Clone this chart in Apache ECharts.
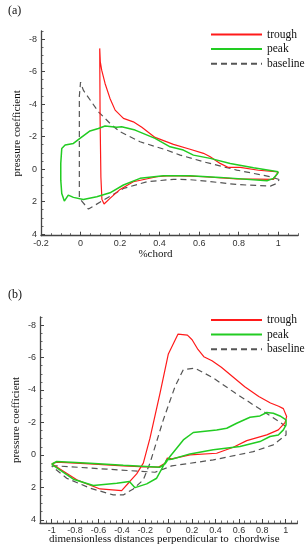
<!DOCTYPE html>
<html><head><meta charset="utf-8">
<script src="https://cdn.jsdelivr.net/npm/echarts@6/dist/echarts.min.js"></script>
<style>html,body{margin:0;padding:0;background:#fff}#c{width:306px;height:550px}</style>
</head><body><div id="c"></div>
<script>
// ---- tick labels ----
const xTicksA = [-0.2, 0, 0.2, 0.4, 0.6, 0.8, 1];
const xTicksB = [-1, -0.8, -0.6, -0.4, -0.2, 0, 0.2, 0.4, 0.6, 0.8, 1];
const yTicks = [-8, -6, -4, -2, 0, 2, 4];
const seriesNames = ['trough', 'peak', 'baseline'];

// ---- panel (a): pressure coefficient vs %chord ----
const troughA = [[1.0,0.17],[0.993,0.23],[0.9,0.07],[0.808,-0.1],[0.748,-0.1],[0.706,-0.35],[0.656,-0.76],[0.622,-0.97],
  [0.554,-1.22],[0.47,-1.52],[0.377,-1.95],[0.31,-2.57],[0.267,-2.91],[0.217,-3.12],[0.175,-3.63],[0.149,-4.35],
  [0.124,-5.27],[0.107,-6.09],[0.1,-6.6],[0.097,-7.43],[0.099,-3.0],[0.103,0.5],[0.108,1.85],[0.119,2.15],
  [0.149,1.8],[0.2,1.25],[0.267,0.78],[0.386,0.47],[0.453,0.4],[0.554,0.43],[0.622,0.47],[0.79,0.6],[0.976,0.63],[1.0,0.17]];
const peakA = [[1.0,0.17],[0.875,-0.08],[0.757,-0.35],[0.656,-0.66],[0.571,-0.86],[0.52,-1.17],[0.453,-1.37],[0.377,-1.89],
  [0.276,-2.4],[0.208,-2.6],[0.183,-2.57],[0.124,-2.65],[0.09,-2.5],[0.048,-2.35],[-0.003,-1.89],[-0.036,-1.58],
  [-0.078,-1.48],[-0.095,-1.27],[-0.1,-0.35],[-0.1,0.68],[-0.095,1.5],[-0.082,1.97],[-0.062,1.6],[-0.036,1.74],
  [0.014,1.87],[0.082,1.7],[0.149,1.46],[0.217,0.98],[0.301,0.57],[0.419,0.41],[0.554,0.41],[0.706,0.51],
  [0.943,0.72],[0.976,0.57],[0.997,0.27],[1.0,0.17]];
const baselineA = [[1.005,0.64],[0.96,0.47],[0.79,0.06],[0.622,-0.45],[0.504,-0.86],[0.436,-1.17],[0.301,-1.68],
  [0.2,-2.3],[0.158,-2.71],[0.09,-3.53],[0.014,-4.86],[0.0,-5.35],[-0.006,-4.5],[-0.006,1.8],[0.04,2.46],
  [0.116,1.91],[0.217,1.19],[0.335,0.78],[0.47,0.63],[0.55,0.65],[0.62,0.72],[0.79,0.95],[0.96,1.05],[0.993,0.88],[1.005,0.64]];

// ---- panel (b): pressure coefficient vs perpendicular distance ----
const troughB = [[-1.0,0.55],[-0.957,0.45],[-0.673,0.55],[-0.388,0.68],[-0.245,0.72],[-0.089,0.76],[-0.032,0.51],
  [-0.012,0.2],[0.026,0.25],[0.182,0.0],[0.41,-0.1],[0.552,-0.47],[0.667,-0.88],[0.838,-1.23],[0.937,-1.54],
  [0.994,-1.99],[1.008,-2.36],[0.98,-2.85],[0.94,-3.0],[0.87,-3.2],[0.77,-3.6],[0.65,-4.2],[0.55,-4.8],
  [0.45,-5.4],[0.37,-5.8],[0.3,-6.05],[0.25,-6.5],[0.2,-7.1],[0.16,-7.38],[0.08,-7.45],[-0.003,-6.22],
  [-0.074,-3.8],[-0.16,-1.03],[-0.217,0.51],[-0.274,1.17],[-0.332,1.64],[-0.402,2.2],[-0.587,2.1],[-0.786,1.54],[-1.0,0.55]];
const peakB = [[-1.0,0.58],[-0.957,0.41],[-0.673,0.51],[-0.388,0.64],[-0.074,0.76],[-0.032,0.56],[0.011,0.1],
  [0.125,-0.92],[0.21,-1.38],[0.41,-1.54],[0.496,-1.64],[0.581,-1.95],[0.695,-2.32],[0.78,-2.4],[0.838,-2.61],
  [0.894,-2.57],[0.951,-2.4],[1.003,-2.16],[1.003,-1.85],[0.98,-1.54],[0.937,-1.23],[0.866,-1.13],[0.78,-0.82],
  [0.609,-0.51],[0.381,-0.31],[0.182,-0.06],[0.026,0.27],[-0.017,0.3],[-0.103,1.44],[-0.188,1.79],[-0.288,2.02],
  [-0.336,1.64],[-0.444,1.75],[-0.644,1.89],[-0.815,1.5],[-1.0,0.58]];
const baselineB = [[-1.0,0.7],[-0.957,0.68],[-0.53,0.88],[-0.117,1.07],[0.026,0.68],[0.381,0.31],[0.723,-0.2],
  [0.894,-0.62],[1.003,-1.23],[1.003,-1.75],[0.89,-2.3],[0.72,-3.1],[0.55,-3.9],[0.38,-4.75],[0.225,-5.34],
  [0.125,-5.26],[0.054,-4.21],[-0.046,-2.16],[-0.16,0.51],[-0.217,1.54],[-0.303,2.1],[-0.388,2.47],[-0.474,2.47],
  [-0.673,2.05],[-0.872,1.44],[-1.0,0.7]];

// ---- helpers ----
function minorTicks(min, max, step, majors) {
  const out = [];
  const n = Math.round((max - min) / step);
  for (let i = 0; i <= n; i++) {
    const v = Math.round((min + i * step) * 1000) / 1000;
    if (!majors.some(m => Math.abs(m - v) < 1e-6)) out.push(v);
  }
  return out;
}
const AX = '#444';
const tickFont = {fontFamily: 'Liberation Sans', fontSize: 9, color: '#333'};
const serif = 'Liberation Serif';

function mainX(grid, min, max, ticks, name, padRight, gap) {
  return {
    type: 'value', gridIndex: grid, position: 'bottom', min: min, max: max,
    axisLine: {show: true, onZero: false, lineStyle: {color: AX, width: 1.3}},
    axisTick: {show: true, inside: true, length: 4, customValues: ticks, lineStyle: {color: AX, width: 1}},
    axisLabel: Object.assign({customValues: ticks, margin: 3}, tickFont),
    splitLine: {show: false},
    name: name, nameLocation: 'middle', nameGap: gap, nameMoveOverlap: false,
    nameTextStyle: {fontFamily: serif, fontSize: 11, color: '#111', padding: [0, padRight, 0, 0]}
  };
}
function minorX(grid, min, max, vals) {
  return {
    type: 'value', gridIndex: grid, position: 'bottom', min: min, max: max,
    axisLine: {show: false, onZero: false},
    axisTick: {show: true, inside: true, length: 2.5, customValues: vals, lineStyle: {color: AX, width: 0.8}},
    axisLabel: {show: false}, splitLine: {show: false}
  };
}
function mainY(grid, min, max) {
  return {
    type: 'value', gridIndex: grid, position: 'left', inverse: true, min: min, max: max,
    axisLine: {show: true, onZero: false, lineStyle: {color: AX, width: 1.3}},
    axisTick: {show: true, inside: true, length: 4, customValues: yTicks, lineStyle: {color: AX, width: 1}},
    axisLabel: Object.assign({customValues: yTicks, margin: 4}, tickFont),
    splitLine: {show: false},
    name: 'pressure coefficient', nameLocation: 'middle', nameGap: 18, nameMoveOverlap: false,
    nameTextStyle: {fontFamily: serif, fontSize: 11, color: '#111'}
  };
}
function minorY(grid, min, max) {
  return {
    type: 'value', gridIndex: grid, position: 'left', inverse: true, min: min, max: max,
    axisLine: {show: false, onZero: false},
    axisTick: {show: true, inside: true, length: 2.5, customValues: minorTicks(min, max, 0.5, yTicks), lineStyle: {color: AX, width: 0.8}},
    axisLabel: {show: false}, splitLine: {show: false}
  };
}
function line(name, data, xi, color, width, dashed) {
  return {
    name: name, type: 'line', xAxisIndex: xi, yAxisIndex: xi, data: data,
    symbol: 'none', smooth: false, clip: true, animation: false,
    lineStyle: {color: color, width: width, type: dashed ? [6, 4] : 'solid'},
    itemStyle: {color: color}
  };
}
const legendBase = {
  data: seriesNames, orient: 'vertical', left: 210, padding: 0, itemWidth: 51, itemHeight: 14, itemGap: 2.6,
  textStyle: {fontFamily: serif, fontSize: 11.5, color: '#111'},
  itemStyle: {opacity: 0}, selectedMode: false
};

const chart = echarts.init(document.getElementById('c'), null, {renderer: 'canvas'});
chart.setOption({
  backgroundColor: '#fff',
  animation: false,
  title: [
    {text: '(a)', left: 3, top: 0, textStyle: {fontFamily: serif, fontSize: 12, fontWeight: 'normal', color: '#111'}},
    {text: '(b)', left: 3, top: 284, textStyle: {fontFamily: serif, fontSize: 12, fontWeight: 'normal', color: '#111'}}
  ],
  legend: [
    Object.assign({top: 28.5}, legendBase),
    Object.assign({top: 314}, legendBase)
  ],
  grid: [
    {left: 41, top: 31, width: 257, height: 204.7},
    {left: 40, top: 317, width: 257.4, height: 206}
  ],
  xAxis: [
    mainX(0, -0.2, 1.1, xTicksA, '%chord', 28, 13),
    mainX(1, -1.1, 1.1, xTicksB, 'dimensionless distances perpendicular to  chordwise', 9, 11),
    minorX(0, -0.2, 1.1, minorTicks(-0.2, 1.1, 0.05, xTicksA)),
    minorX(1, -1.1, 1.1, minorTicks(-1.1, 1.1, 0.05, xTicksB))
  ],
  yAxis: [
    mainY(0, -8.5, 4.1),
    mainY(1, -8.5, 4.2),
    minorY(0, -8.5, 4.1),
    minorY(1, -8.5, 4.2)
  ],
  series: [
    line('baseline', baselineA, 0, '#555', 1.2, true),
    line('trough', troughA, 0, '#ff1a1a', 1.2, false),
    line('peak', peakA, 0, '#22cc22', 1.5, false),
    line('baseline', baselineB, 1, '#555', 1.2, true),
    line('trough', troughB, 1, '#ff1a1a', 1.2, false),
    line('peak', peakB, 1, '#22cc22', 1.5, false)
  ]
});
</script></body></html>
